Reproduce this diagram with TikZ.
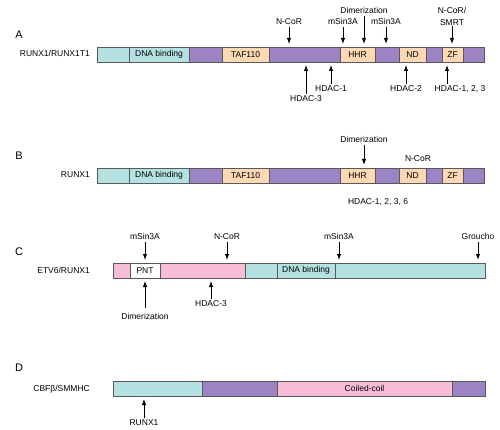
\documentclass[tikz,border=0pt]{standalone}
\usepackage{fontspec}
\setmainfont{Liberation Sans}
\usetikzlibrary{arrows.meta,positioning}
\definecolor{cyanseg}{HTML}{B4E1E1}
\definecolor{purpseg}{HTML}{9C84C4}
\definecolor{peachseg}{HTML}{FCD8B4}
\definecolor{pinkseg}{HTML}{F7BDD6}
\begin{document}
\begin{tikzpicture}[x=1pt, y=-1pt,
    seg/.style={draw=black!65, line width=0.7pt, minimum height=15pt, inner sep=0pt, outer sep=0pt, font=\fontsize{8.5}{10}\selectfont},
    lbl/.style={inner sep=1pt, text height=6pt, text depth=1pt, font=\fontsize{8.5}{10}\selectfont},
    lbltwo/.style={inner sep=1pt, align=center, font=\fontsize{8.5}{12}\selectfont},
    panel/.style={font=\fontsize{11}{13}\selectfont},
    arr/.style={-{Latex[length=6pt,width=4.5pt]}, line width=1pt, shorten >=3pt}
]
\useasboundingbox[fill=white] (0,0) rectangle (500,430);

% A: RUNX1/RUNX1T1
\node[panel] (pA) at (19,35) {A};
\node[seg, fill=cyanseg, minimum width=32pt, anchor=north west] (a1) at (97,47) {};
\node[seg, fill=cyanseg, minimum width=60pt, right=0pt of a1] (a2) {DNA binding};
\node[seg, fill=purpseg, minimum width=33pt, right=0pt of a2] (a3) {};
\node[seg, fill=peachseg, minimum width=47pt, right=0pt of a3] (a4) {TAF110};
\node[seg, fill=purpseg, minimum width=71pt, right=0pt of a4] (a5) {};
\node[seg, fill=peachseg, minimum width=35pt, right=0pt of a5] (a6) {HHR};
\node[seg, fill=purpseg, minimum width=24pt, right=0pt of a6] (a7) {};
\node[seg, fill=peachseg, minimum width=27pt, right=0pt of a7] (a8) {ND};
\node[seg, fill=purpseg, minimum width=16pt, right=0pt of a8] (a9) {};
\node[seg, fill=peachseg, minimum width=21pt, right=0pt of a9] (a10) {ZF};
\node[seg, fill=purpseg, minimum width=21pt, right=0pt of a10] (a11) {};
\node[lbl, left=6pt of a1] (nameA) {RUNX1/RUNX1T1};

\node[lbl] (ncorA) at (289,22) {N-CoR};
\node[lbl] (msinA) at (343,22) {mSin3A};
\node[lbl] (dimA) at (364,11) {Dimerization};
\node[lbl] (msinAb) at (386,22) {mSin3A};
\node[lbltwo] (smrtA) at (452,16) {N-CoR/\\SMRT};
\draw[arr] (ncorA) -- (ncorA |- a5.north);
\draw[arr] (msinA) -- (msinA |- a6.north);
\draw[arr] (dimA) -- (dimA |- a6.north);
\draw[arr] (msinAb) -- (msinAb |- a7.north);
\draw[arr] (smrtA) -- (smrtA |- a10.north);

\node[lbl] (hd3A) at (306,99) {HDAC-3};
\node[lbl] (hd1A) at (331,89) {HDAC-1};
\node[lbl] (hd2A) at (406,89) {HDAC-2};
\node[lbl] (hdsA) at (460,89) {HDAC-1, 2, 3};
\coordinate (hdsAtop) at ([xshift=-13pt]hdsA.north);
\draw[arr] (hd3A) -- (hd3A |- a5.south);
\draw[arr] (hd1A) -- (hd1A |- a5.south);
\draw[arr] (hd2A) -- (hd2A |- a8.south);
\draw[arr] (hdsAtop) -- (hdsAtop |- a10.south);

% B: RUNX1
\node[panel] (pB) at (19,156) {B};
\node[seg, fill=cyanseg, minimum width=32pt, anchor=north west] (b1) at (97,168) {};
\node[seg, fill=cyanseg, minimum width=60pt, right=0pt of b1] (b2) {DNA binding};
\node[seg, fill=purpseg, minimum width=33pt, right=0pt of b2] (b3) {};
\node[seg, fill=peachseg, minimum width=47pt, right=0pt of b3] (b4) {TAF110};
\node[seg, fill=purpseg, minimum width=71pt, right=0pt of b4] (b5) {};
\node[seg, fill=peachseg, minimum width=35pt, right=0pt of b5] (b6) {HHR};
\node[seg, fill=purpseg, minimum width=24pt, right=0pt of b6] (b7) {};
\node[seg, fill=peachseg, minimum width=27pt, right=0pt of b7] (b8) {ND};
\node[seg, fill=purpseg, minimum width=16pt, right=0pt of b8] (b9) {};
\node[seg, fill=peachseg, minimum width=21pt, right=0pt of b9] (b10) {ZF};
\node[seg, fill=purpseg, minimum width=21pt, right=0pt of b10] (b11) {};
\node[lbl, left=6pt of b1] (nameB) {RUNX1};

\node[lbl] (dimB) at (364,140) {Dimerization};
\draw[arr] (dimB) -- (dimB |- b6.north);
\node[lbl] (ncorB) at (418,159) {N-CoR};
\node[lbl] (hdB) at (378,202) {HDAC-1, 2, 3, 6};

% C: ETV6/RUNX1
\node[panel] (pC) at (19,252) {C};
\node[seg, fill=pinkseg, minimum width=17pt, anchor=north west] (c1) at (113,263) {};
\node[seg, fill=white, minimum width=30pt, right=0pt of c1] (c2) {PNT};
\node[seg, fill=pinkseg, minimum width=85pt, right=0pt of c2] (c3) {};
\node[seg, fill=cyanseg, minimum width=32pt, right=0pt of c3] (c4) {};
\node[seg, fill=cyanseg, minimum width=58pt, right=0pt of c4] (c5) {DNA binding};
\node[seg, fill=cyanseg, minimum width=150pt, right=0pt of c5] (c6) {};
\node[lbl, left=22pt of c1] (nameC) {ETV6/RUNX1};

\node[lbl] (msinC) at (145,237) {mSin3A};
\node[lbl] (ncorC) at (227,237) {N-CoR};
\node[lbl] (msinCb) at (339,237) {mSin3A};
\node[lbl] (grouC) at (478,237) {Groucho};
\draw[arr] (msinC) -- (msinC |- c2.north);
\draw[arr] (ncorC) -- (ncorC |- c3.north);
\draw[arr] (msinCb) -- (msinCb |- c6.north);
\draw[arr] (grouC) -- (grouC |- c6.north);

\node[lbl] (dimC) at (145,317) {Dimerization};
\node[lbl] (hd3C) at (211,304) {HDAC-3};
\draw[arr, shorten <=4pt] (dimC) -- (dimC |- c2.south);
\draw[arr] (hd3C) -- (hd3C |- c3.south);

% D: CBFb/SMMHC
\node[panel] (pD) at (19,368) {D};
\node[seg, fill=cyanseg, minimum width=89pt, anchor=north west] (d1) at (113,381) {};
\node[seg, fill=purpseg, minimum width=75pt, right=0pt of d1] (d2) {};
\node[seg, fill=pinkseg, minimum width=175pt, right=0pt of d2] (d3) {Coiled-coil};
\node[seg, fill=purpseg, minimum width=33pt, right=0pt of d3] (d4) {};
\node[lbl, left=22pt of d1] (nameD) {CBFβ/SMMHC};

\node[lbl] (runD) at (144,423) {RUNX1};
\draw[arr] (runD) -- (runD |- d1.south);
\end{tikzpicture}
\end{document}
